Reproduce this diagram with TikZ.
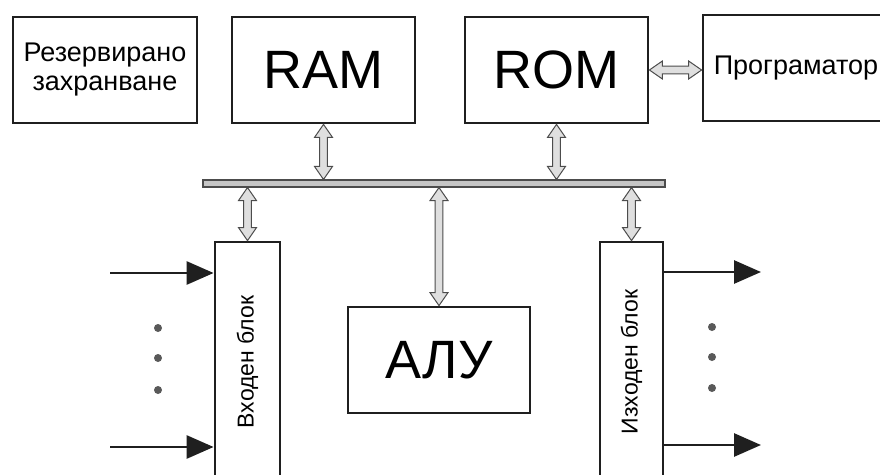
\documentclass[tikz,border=0pt]{standalone}
\usepackage{fontspec}
\setmainfont{Liberation Sans}
\usepackage{graphicx}
\usetikzlibrary{calc,arrows.meta}
\begin{document}
\begin{tikzpicture}[x=1pt,y=-1pt,
  box/.style={draw=black!88, line width=2.8pt, fill=white, inner sep=0pt},
  bigtxt/.style={font=\fontsize{54}{60}\selectfont},
  midtxt/.style={font=\fontsize{27}{29}\selectfont, align=center},
  vtxt/.style={font=\fontsize{23}{26}\selectfont},
  busbar/.style={draw=black!70, fill=gray!45, line width=1.1pt, inner sep=0pt},
  busarrow/.style={draw=black!70, fill=gray!25, line width=1pt,
    to path={
      -- ($(\tikztostart)!13pt!(\tikztotarget)!9pt!90:(\tikztotarget)$)
      -- ($(\tikztostart)!13pt!(\tikztotarget)!3.8pt!90:(\tikztotarget)$)
      -- ($(\tikztotarget)!13pt!(\tikztostart)!3.8pt!-90:(\tikztostart)$)
      -- ($(\tikztotarget)!13pt!(\tikztostart)!9pt!-90:(\tikztostart)$)
      -- (\tikztotarget)
      -- ($(\tikztotarget)!13pt!(\tikztostart)!9pt!90:(\tikztostart)$)
      -- ($(\tikztotarget)!13pt!(\tikztostart)!3.8pt!90:(\tikztostart)$)
      -- ($(\tikztostart)!13pt!(\tikztotarget)!3.8pt!-90:(\tikztotarget)$)
      -- ($(\tikztostart)!13pt!(\tikztotarget)!9pt!-90:(\tikztotarget)$)
      -- cycle}},
  sig/.style={draw=black!88, line width=2.8pt, -{Triangle[length=27pt,width=23pt]}},
  dot/.style={circle, fill=black!65, inner sep=0pt, minimum size=8pt}
]
\clip (0,0) rectangle (880,474);
\fill[white] (0,0) rectangle (880,474);

% top row
\node[box, midtxt, minimum width=184pt, minimum height=106pt] (res) at (105,70)
  {Резервирано\\захранване};
\node[box, bigtxt, minimum width=183pt, minimum height=106pt] (ram) at (323.5,70) {RAM};
\node[box, bigtxt, minimum width=183pt, minimum height=106pt] (rom) at (556.5,70) {ROM};
\node[box, midtxt, minimum width=186pt, minimum height=106pt] (prog) at (796,68) {Програматор};

% bus
\node[busbar, minimum width=462pt, minimum height=7pt] (bus) at (434,183.5) {};

% lower blocks
\node[box, vtxt, minimum width=65pt, minimum height=240pt] (in) at (247.5,362)
  {\rotatebox{90}{Входен блок}};
\node[box, bigtxt, minimum width=182pt, minimum height=106pt] (alu) at (439,360) {АЛУ};
\node[box, vtxt, minimum width=63pt, minimum height=240pt] (out) at (631.5,362)
  {\rotatebox{90}{Изходен блок}};

% bus connectors
\draw[busarrow] (ram.south) to (ram.south |- bus.north);
\draw[busarrow] (rom.south) to (rom.south |- bus.north);
\draw[busarrow] (in.north |- bus.south) to (in.north);
\draw[busarrow] (alu.north |- bus.south) to (alu.north);
\draw[busarrow] (out.north |- bus.south) to (out.north);
\draw[busarrow] (rom.east) to (rom.east -| prog.west);

% input signals
\coordinate (i1) at (110,273);
\coordinate (i2) at (110,447);
\draw[sig] (i1) -- (i1 -| in.west);
\draw[sig] (i2) -- (i2 -| in.west);
\node[dot] (d1) at (158,328) {};
\node[dot] (d2) at (158,358) {};
\node[dot] (d3) at (158,390) {};

% output signals
\coordinate (o1) at (761,272);
\coordinate (o2) at (761,445);
\draw[sig] (o1 -| out.east) -- (o1);
\draw[sig] (o2 -| out.east) -- (o2);
\node[dot] (d4) at (712,327) {};
\node[dot] (d5) at (712,357) {};
\node[dot] (d6) at (712,388) {};
\end{tikzpicture}
\end{document}
